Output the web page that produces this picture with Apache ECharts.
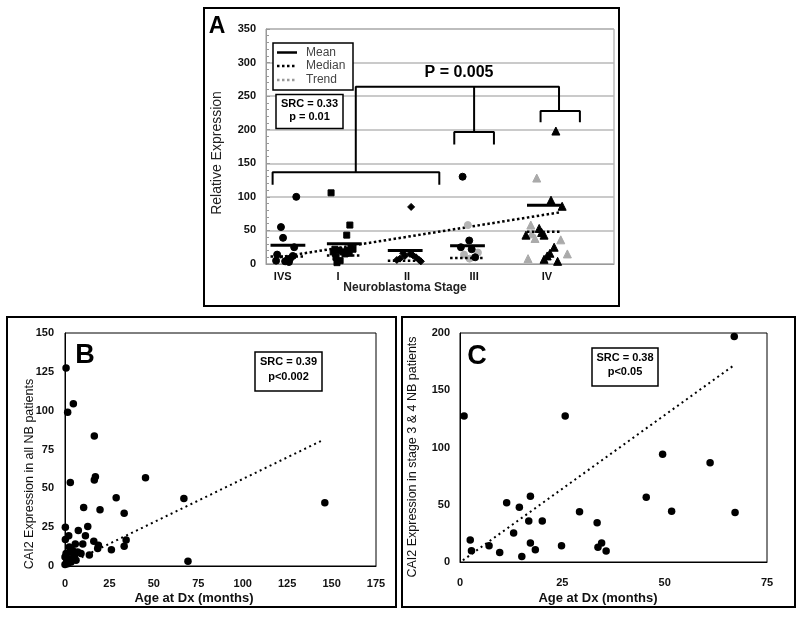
<!DOCTYPE html>
<html><head><meta charset="utf-8">
<script src="https://cdn.jsdelivr.net/npm/echarts@6/dist/echarts.min.js"></script>
<style>html,body{margin:0;padding:0;background:#fff}#c{width:800px;height:618px}</style>
</head><body><div id="c"></div>
<script>
// ---------- Panel A data (x in stage-axis units 0..100, y = relative expression)
const stageNames = ['IVS','I','II','III','IV'];
const stageLabelX = [4.8, 20.7, 40.5, 59.8, 80.7];
const stageCenterX = [6.3, 22.5, 40, 57.9, 80];
const stageMean = [28, 30, 20, 27, 87.5];
const stageMedian = [11, 12.5, 5, 9, 48];
const ivsPts = [[8.7,100],[4.3,55],[4.9,39],[8.1,25],[3.2,14],[2.9,5],[6.0,5],[6.9,8],[7.7,12],[6.6,3],[5.5,4]];
const stIPts = [[18.7,106],[24.1,58],[23.2,43],[19.8,22],[21,20],[22.1,18],[23.3,20],[24.4,25],[25,22],[20.1,10],[21.3,5],[20.4,2],[22.7,15],[23.9,16],[19.3,18]];
const stIIPts = [[41.7,85],[37.6,6],[38.5,8],[39.4,16],[39.9,12],[41.4,15],[42.2,13],[43.1,10],[44,6],[44.5,4]];
const stIIIBlack = [[56.5,130],[58.4,35],[56,25],[59.1,22],[60.1,10]];
const stIIIGray = [[58,58],[56.9,14],[60.9,17],[58.5,8]];
const stIVBlack = [[83.3,198],[81.9,95],[85.1,86],[74.7,43],[78.5,53],[79.2,47],[79.9,43],[82.8,25],[81.6,16],[80.8,12],[79.9,7],[83.8,4]];
const stIVGray = [[77.8,128],[76.1,58],[76.4,45],[77.3,38],[84.7,36],[86.6,15],[75.3,8]];
const trendA = [[2.6,9],[84.5,77]];
const brackets = [
  [[1.9,118],[1.9,136.5],[49.8,136.5],[49.8,118]],
  [[54.1,178],[54.1,196.5],[65.5,196.5],[65.5,178]],
  [[78.9,211],[78.9,228],[90.2,228],[90.2,211]],
  [[25.8,136.5],[25.8,264],[84.2,264],[84.2,228]],
  [[59.8,196.5],[59.8,264]]
];

// ---------- Panel B data (age months, expression)
const bPts = [[0.6,127.4],[1.5,99],[4.7,104.4],[16.5,83.7],[17.1,57.5],[16.5,55.3],[3,53.8],[45.3,56.8],[28.8,43.9],[66.9,43.5],[146.2,40.7],[10.5,37.7],[19.7,36.2],[33.3,34],[12.8,25.4],[0.2,25],[7.5,22.8],[2.1,19.4],[11.5,19.4],[34.4,16.8],[16.2,15.9],[0.2,17],[10,14.2],[5.8,14.2],[18.8,13.3],[33.3,12.7],[26.1,10.5],[18.4,11.2],[13.7,7.1],[9,8],[0.6,8],[3.4,9],[5.3,6.5],[6.2,3.7],[0.9,2.6],[1.5,1.5],[69.2,3],[2.8,4.7],[0,1],[4.3,10],[2.4,12.3],[7.1,9],[0,5.8],[3.4,2.6]];
const trendB = [[1,1],[145,81]];

// ---------- Panel C data
const cPts = [[67,197],[1,127.6],[25.7,127.6],[49.5,94],[61.1,86.7],[45.5,56.6],[51.7,44.4],[67.2,43.2],[29.2,43.8],[17.2,57.5],[11.4,51.7],[14.5,47.9],[16.8,35.9],[20.1,35.9],[33.5,34.2],[13.1,25.4],[2.5,19.3],[17.2,16.6],[34.6,16.6],[7.1,14.3],[24.8,14.3],[33.7,12.8],[2.8,9.9],[18.4,10.8],[35.7,9.6],[9.7,8.2],[15.1,4.7]];
const trendC = [[0.7,1.5],[67,172]];

const FONT = '"Liberation Sans", Arial, sans-serif';
const chart = echarts.init(document.getElementById('c'), null, {renderer:'canvas'});

const halfW = 5;
const meanSeries = stageMean.map((m,i)=>({
  type:'line', xAxisIndex:0, yAxisIndex:0, symbol:'none', z:5, silent:true,
  data:[[stageCenterX[i]-halfW,m],[stageCenterX[i]+halfW,m]],
  lineStyle:{color:'#000', width:3}
}));
const medianSeries = stageMedian.map((m,i)=>({
  type:'line', xAxisIndex:0, yAxisIndex:0, symbol:'none', z:4, silent:true,
  data:[[stageCenterX[i]-halfW,m],[stageCenterX[i]+halfW,m]],
  lineStyle:{color:'#000', width:2.5, type:[2.5,2.5]}
}));
const bracketSeries = brackets.map(b=>({
  type:'line', xAxisIndex:0, yAxisIndex:0, symbol:'none', silent:true,
  data:b, lineStyle:{color:'#000', width:2}
}));
function sc(data, symbol, color, size){
  return {type:'scatter', xAxisIndex:0, yAxisIndex:0, data, symbol, symbolSize:size,
    itemStyle:{color, borderColor:color, opacity:1}, z:3};
}
const tickLabel = {color:'#111', fontWeight:'bold', fontSize:11, fontFamily:FONT};

const option = {
  animation:false,
  backgroundColor:'#fff',
  grid:[
    {left:266, top:29, width:348, height:235, show:true, borderColor:'#999', borderWidth:1},
    {left:65, top:333, width:311, height:233, show:true, borderColor:'#000', borderWidth:1},
    {left:460, top:333, width:307, height:229, show:true, borderColor:'#000', borderWidth:1}
  ],
  xAxis:[
    {gridIndex:0, type:'value', min:0, max:100,
      axisLine:{show:true, lineStyle:{color:'#999'}}, axisTick:{show:false}, splitLine:{show:false},
      axisLabel:Object.assign({}, tickLabel, {margin:7, customValues:stageLabelX,
        formatter:v=>{let k=0,b=1e9;stageLabelX.forEach((x,i)=>{if(Math.abs(x-v)<b){b=Math.abs(x-v);k=i;}});return stageNames[k];}})},
    {gridIndex:1, type:'value', min:0, max:175, interval:25,
      axisLine:{show:true, lineStyle:{color:'#000'}}, axisTick:{show:false}, splitLine:{show:false},
      axisLabel:Object.assign({}, tickLabel, {margin:12})},
    {gridIndex:2, type:'value', min:0, max:75, interval:25,
      axisLine:{show:true, lineStyle:{color:'#000'}}, axisTick:{show:false}, splitLine:{show:false},
      axisLabel:Object.assign({}, tickLabel, {margin:15})}
  ],
  yAxis:[
    {gridIndex:0, type:'value', min:0, max:350, interval:50,
      axisLine:{show:true, lineStyle:{color:'#999'}},
      axisTick:{show:true, inside:true, length:4, lineStyle:{color:'#999'}},
      minorTick:{show:true, splitNumber:5, length:3, lineStyle:{color:'#999'}},
      splitLine:{show:true, lineStyle:{color:'#b8b8b8', width:1.5}},
      axisLabel:Object.assign({}, tickLabel, {margin:10})},
    {gridIndex:1, type:'value', min:0, max:150, interval:25,
      axisLine:{show:true, lineStyle:{color:'#000'}}, axisTick:{show:false}, splitLine:{show:false},
      axisLabel:Object.assign({}, tickLabel, {margin:11})},
    {gridIndex:2, type:'value', min:0, max:200, interval:50,
      axisLine:{show:true, lineStyle:{color:'#000'}}, axisTick:{show:false}, splitLine:{show:false},
      axisLabel:Object.assign({}, tickLabel, {margin:10})}
  ],
  series:[
    ...bracketSeries,
    {type:'line', xAxisIndex:0, yAxisIndex:0, symbol:'none', data:trendA, z:2,
      lineStyle:{color:'#000', width:2.5, type:[2.5,2.5]}},
    sc(ivsPts,'circle','#000',7),
    sc(stIPts,'rect','#000',6),
    sc(stIIPts,'diamond','#000',7),
    sc(stIIIGray,'circle','#b4b4b4',7),
    sc(stIIIBlack,'circle','#000',7),
    sc(stIVGray,'triangle','#aaaaaa',8),
    sc(stIVBlack,'triangle','#000',8),
    ...medianSeries,
    ...meanSeries,
    {type:'scatter', xAxisIndex:1, yAxisIndex:1, data:bPts, symbol:'circle', symbolSize:7.5, itemStyle:{color:'#000', opacity:1}},
    {type:'line', xAxisIndex:1, yAxisIndex:1, symbol:'none', data:trendB, lineStyle:{color:'#000', width:2, type:[2,3.5]}},
    {type:'scatter', xAxisIndex:2, yAxisIndex:2, data:cPts, symbol:'circle', symbolSize:7.5, itemStyle:{color:'#000', opacity:1}},
    {type:'line', xAxisIndex:2, yAxisIndex:2, symbol:'none', data:trendC, lineStyle:{color:'#000', width:2, type:[2,3.5]}}
  ],
  graphic:[
    {type:'rect', shape:{x:204,y:8,width:415,height:298}, style:{fill:'none', stroke:'#000', lineWidth:2}},
    {type:'rect', shape:{x:7,y:317,width:389,height:290}, style:{fill:'none', stroke:'#000', lineWidth:2}},
    {type:'rect', shape:{x:402,y:317,width:393,height:290}, style:{fill:'none', stroke:'#000', lineWidth:2}},
    {type:'text', x:217, y:27, style:{text:'A', font:'bold 23px '+FONT, fill:'#000', textAlign:'center', textVerticalAlign:'middle'}},
    {type:'text', x:85, y:356, style:{text:'B', font:'bold 27px '+FONT, fill:'#000', textAlign:'center', textVerticalAlign:'middle'}},
    {type:'text', x:477, y:357, style:{text:'C', font:'bold 27px '+FONT, fill:'#000', textAlign:'center', textVerticalAlign:'middle'}},
    {type:'text', x:217, y:153, rotation:Math.PI/2, style:{text:'Relative Expression', font:'14px '+FONT, fill:'#222', textAlign:'center', textVerticalAlign:'middle'}},
    {type:'text', x:405, y:288, style:{text:'Neuroblastoma Stage', font:'bold 12px '+FONT, fill:'#222', textAlign:'center', textVerticalAlign:'middle'}},
    {type:'text', x:30, y:474, rotation:Math.PI/2, style:{text:'CAI2 Expression in all NB patients', font:'12.5px '+FONT, fill:'#111', textAlign:'center', textVerticalAlign:'middle'}},
    {type:'text', x:194, y:598, style:{text:'Age at Dx (months)', font:'bold 13px '+FONT, fill:'#111', textAlign:'center', textVerticalAlign:'middle'}},
    {type:'text', x:413, y:457, rotation:Math.PI/2, style:{text:'CAI2 Expression in stage 3 & 4 NB patients', font:'12.5px '+FONT, fill:'#111', textAlign:'center', textVerticalAlign:'middle'}},
    {type:'text', x:598, y:598, style:{text:'Age at Dx (months)', font:'bold 13px '+FONT, fill:'#111', textAlign:'center', textVerticalAlign:'middle'}},
    {type:'rect', z:10, shape:{x:273,y:43,width:80,height:47}, style:{fill:'#fff', stroke:'#000', lineWidth:1.5}},
    {type:'line', z:11, shape:{x1:277,y1:52.5,x2:297,y2:52.5}, style:{stroke:'#000', lineWidth:2.5}},
    {type:'line', z:11, shape:{x1:277,y1:66,x2:297,y2:66}, style:{stroke:'#000', lineWidth:2.5, lineDash:[2.5,2.5]}},
    {type:'line', z:11, shape:{x1:277,y1:80,x2:297,y2:80}, style:{stroke:'#999', lineWidth:2.5, lineDash:[2.5,2.5]}},
    {type:'text', z:11, x:306, y:52.5, style:{text:'Mean', font:'12px '+FONT, fill:'#444', textVerticalAlign:'middle'}},
    {type:'text', z:11, x:306, y:66, style:{text:'Median', font:'12px '+FONT, fill:'#444', textVerticalAlign:'middle'}},
    {type:'text', z:11, x:306, y:80, style:{text:'Trend', font:'12px '+FONT, fill:'#444', textVerticalAlign:'middle'}},
    {type:'rect', z:10, shape:{x:276,y:94.5,width:67,height:34}, style:{fill:'#fff', stroke:'#000', lineWidth:1.5}},
    {type:'text', z:11, x:309.5, y:103.5, style:{text:'SRC = 0.33', font:'bold 11px '+FONT, fill:'#000', textAlign:'center', textVerticalAlign:'middle'}},
    {type:'text', z:11, x:309.5, y:117, style:{text:'p = 0.01', font:'bold 11px '+FONT, fill:'#000', textAlign:'center', textVerticalAlign:'middle'}},
    {type:'text', z:11, x:459, y:73, style:{text:'P = 0.005', font:'bold 16px '+FONT, fill:'#000', textAlign:'center', textVerticalAlign:'middle'}},
    {type:'rect', z:10, shape:{x:255,y:352,width:67,height:39}, style:{fill:'#fff', stroke:'#000', lineWidth:1.5}},
    {type:'text', z:11, x:288.5, y:362, style:{text:'SRC = 0.39', font:'bold 11px '+FONT, fill:'#000', textAlign:'center', textVerticalAlign:'middle'}},
    {type:'text', z:11, x:288.5, y:377, style:{text:'p<0.002', font:'bold 11px '+FONT, fill:'#000', textAlign:'center', textVerticalAlign:'middle'}},
    {type:'rect', z:10, shape:{x:592,y:348,width:66,height:38}, style:{fill:'#fff', stroke:'#000', lineWidth:1.5}},
    {type:'text', z:11, x:625, y:358, style:{text:'SRC = 0.38', font:'bold 11px '+FONT, fill:'#000', textAlign:'center', textVerticalAlign:'middle'}},
    {type:'text', z:11, x:625, y:371.5, style:{text:'p<0.05', font:'bold 11px '+FONT, fill:'#000', textAlign:'center', textVerticalAlign:'middle'}}
  ]
};
chart.setOption(option);
</script></body></html>
